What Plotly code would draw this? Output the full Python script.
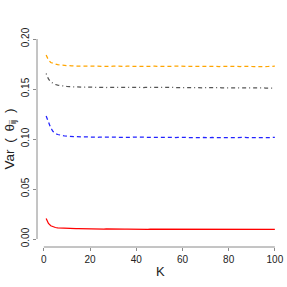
import plotly.graph_objects as go

K = list(range(1, 101))

var_red = [0.0205, 0.0155, 0.0132, 0.0121, 0.0115, 0.0112, 0.0110, 0.0108, 0.0107, 0.0106,
           0.0105, 0.0104, 0.0104, 0.0103, 0.0103, 0.0102, 0.0102, 0.0101, 0.0101, 0.0100,
           0.0100, 0.0100, 0.0099, 0.0100, 0.0099, 0.0099, 0.0100, 0.0099, 0.0099, 0.0099,
           0.0099, 0.0098, 0.0099, 0.0099, 0.0098, 0.0099, 0.0098, 0.0098, 0.0099, 0.0098,
           0.0098, 0.0097, 0.0097, 0.0098, 0.0097, 0.0098, 0.0098, 0.0097, 0.0098, 0.0098,
           0.0097, 0.0098, 0.0098, 0.0097, 0.0097, 0.0098, 0.0097, 0.0098, 0.0098, 0.0097,
           0.0097, 0.0098, 0.0097, 0.0097, 0.0098, 0.0097, 0.0097, 0.0098, 0.0097, 0.0097,
           0.0097, 0.0097, 0.0098, 0.0097, 0.0097, 0.0097, 0.0097, 0.0098, 0.0097, 0.0097,
           0.0096, 0.0097, 0.0097, 0.0096, 0.0097, 0.0097, 0.0096, 0.0097, 0.0096, 0.0096,
           0.0097, 0.0096, 0.0096, 0.0096, 0.0097, 0.0096, 0.0096, 0.0096, 0.0096, 0.0096]

var_blue = [0.1230, 0.1160, 0.1110, 0.1075, 0.1055, 0.1045, 0.1038, 0.1033, 0.1030, 0.1028,
            0.1026, 0.1025, 0.1024, 0.1022, 0.1022, 0.1021, 0.1020, 0.1021, 0.1019, 0.1020,
            0.1018, 0.1019, 0.1017, 0.1018, 0.1019, 0.1017, 0.1016, 0.1018, 0.1020, 0.1022,
            0.1019, 0.1017, 0.1016, 0.1017, 0.1018, 0.1016, 0.1015, 0.1017, 0.1019, 0.1018,
            0.1016, 0.1015, 0.1016, 0.1017, 0.1016, 0.1015, 0.1014, 0.1016, 0.1017, 0.1016,
            0.1015, 0.1016, 0.1018, 0.1017, 0.1015, 0.1014, 0.1015, 0.1017, 0.1019, 0.1018,
            0.1016, 0.1014, 0.1013, 0.1015, 0.1017, 0.1016, 0.1014, 0.1013, 0.1015, 0.1017,
            0.1016, 0.1014, 0.1015, 0.1017, 0.1016, 0.1014, 0.1015, 0.1016, 0.1015, 0.1014,
            0.1016, 0.1017, 0.1015, 0.1014, 0.1016, 0.1018, 0.1016, 0.1014, 0.1015, 0.1016,
            0.1015, 0.1014, 0.1016, 0.1017, 0.1015, 0.1014, 0.1016, 0.1015, 0.1014, 0.1016]

var_gray = [0.1655, 0.1600, 0.1570, 0.1555, 0.1545, 0.1538, 0.1533, 0.1530, 0.1527, 0.1525,
            0.1524, 0.1522, 0.1521, 0.1520, 0.1521, 0.1519, 0.1518, 0.1519, 0.1518, 0.1517,
            0.1518, 0.1517, 0.1516, 0.1518, 0.1517, 0.1516, 0.1515, 0.1517, 0.1518, 0.1519,
            0.1517, 0.1516, 0.1515, 0.1516, 0.1517, 0.1516, 0.1515, 0.1514, 0.1516, 0.1517,
            0.1515, 0.1514, 0.1515, 0.1516, 0.1515, 0.1514, 0.1513, 0.1515, 0.1516, 0.1515,
            0.1514, 0.1515, 0.1516, 0.1515, 0.1513, 0.1514, 0.1515, 0.1514, 0.1513, 0.1514,
            0.1515, 0.1514, 0.1513, 0.1512, 0.1514, 0.1515, 0.1514, 0.1513, 0.1512, 0.1514,
            0.1515, 0.1513, 0.1512, 0.1513, 0.1514, 0.1513, 0.1512, 0.1513, 0.1514, 0.1512,
            0.1511, 0.1513, 0.1514, 0.1512, 0.1511, 0.1513, 0.1515, 0.1512, 0.1511, 0.1512,
            0.1513, 0.1511, 0.1510, 0.1512, 0.1511, 0.1510, 0.1511, 0.1512, 0.1510, 0.1510]

var_orange = [0.1840, 0.1790, 0.1765, 0.1755, 0.1748, 0.1743, 0.1740, 0.1737, 0.1735, 0.1733,
              0.1732, 0.1731, 0.1730, 0.1731, 0.1729, 0.1730, 0.1729, 0.1728, 0.1730, 0.1729,
              0.1728, 0.1727, 0.1729, 0.1728, 0.1727, 0.1728, 0.1729, 0.1727, 0.1726, 0.1728,
              0.1727, 0.1726, 0.1722, 0.1725, 0.1727, 0.1728, 0.1727, 0.1726, 0.1725, 0.1727,
              0.1728, 0.1727, 0.1726, 0.1725, 0.1727, 0.1729, 0.1731, 0.1728, 0.1726, 0.1727,
              0.1729, 0.1731, 0.1729, 0.1727, 0.1726, 0.1725, 0.1727, 0.1729, 0.1731, 0.1728,
              0.1726, 0.1725, 0.1727, 0.1728, 0.1726, 0.1725, 0.1724, 0.1726, 0.1727, 0.1726,
              0.1725, 0.1726, 0.1727, 0.1725, 0.1724, 0.1725, 0.1727, 0.1726, 0.1724, 0.1723,
              0.1725, 0.1726, 0.1724, 0.1723, 0.1725, 0.1726, 0.1724, 0.1722, 0.1724, 0.1725,
              0.1724, 0.1723, 0.1725, 0.1726, 0.1724, 0.1723, 0.1725, 0.1727, 0.1726, 0.1728]

x_ticks = [0, 20, 40, 60, 80, 100]
y_ticks = [0.00, 0.05, 0.10, 0.15, 0.20]
y_tick_text = ["0.00", "0.05", "0.10", "0.15", "0.20"]
x_title = "K"
y_title = "Var\u2002(\u2002θ<sub>ij</sub>\u2002)"

series = [
    (var_orange, "#FFA500", "4px,3px"),
    (var_gray, "#555555", "1px,3px,4px,3px"),
    (var_blue, "#2222FF", "4px,3px"),
    (var_red, "#FF0000", "solid"),
]

fig = go.Figure()
for vals, col, dash in series:
    fig.add_trace(go.Scatter(x=K, y=vals, mode="lines",
                             line=dict(color=col, width=1.25, dash=dash),
                             showlegend=False, hoverinfo="skip"))

axis_col = "#8a8a8a"
# R-style axis lines spanning first to last tick
fig.add_shape(type="line", xref="x", yref="paper", x0=x_ticks[0], x1=x_ticks[-1], y0=0, y1=0,
              line=dict(color=axis_col, width=1))
fig.add_shape(type="line", xref="paper", yref="y", x0=0, x1=0, y0=y_ticks[0], y1=y_ticks[-1],
              line=dict(color=axis_col, width=1))

font = "Liberation Sans, Arial, sans-serif"
txt_col = "#222222"
fig.add_annotation(text=x_title, xref="paper", yref="paper", x=0.5, y=0, yshift=-24,
                   xanchor="center", yanchor="middle", showarrow=False,
                   font=dict(size=13, color=txt_col, family=font))
fig.add_annotation(text=y_title, xref="paper", yref="paper", x=0, y=0.5, xshift=-27.5,
                   xanchor="center", yanchor="middle", textangle=-90, showarrow=False,
                   font=dict(size=13.5, color=txt_col, family=font))

fig.update_layout(
    width=287, height=287,
    margin=dict(l=37, r=3, t=31, b=40),
    plot_bgcolor="white", paper_bgcolor="white",
    font=dict(family=font, color=txt_col),
    xaxis=dict(range=[-2.96, 103.96], tickvals=x_ticks, ticks="outside", ticklen=3,
               tickcolor=axis_col, showline=False, showgrid=False, zeroline=False,
               automargin=False, tickfont=dict(size=10)),
    yaxis=dict(range=[-0.008, 0.208], tickvals=y_ticks, ticktext=y_tick_text, tickangle=-90,
               ticks="outside", ticklen=3, tickcolor=axis_col, showline=False, showgrid=False,
               zeroline=False, automargin=False, tickfont=dict(size=10)),
)

# remove the browser's default 8px page margin so the figure fills the window
fig.write_html("out.html", config={"displayModeBar": False},
               post_script="document.body.style.margin='0';document.body.style.overflow='hidden';")
